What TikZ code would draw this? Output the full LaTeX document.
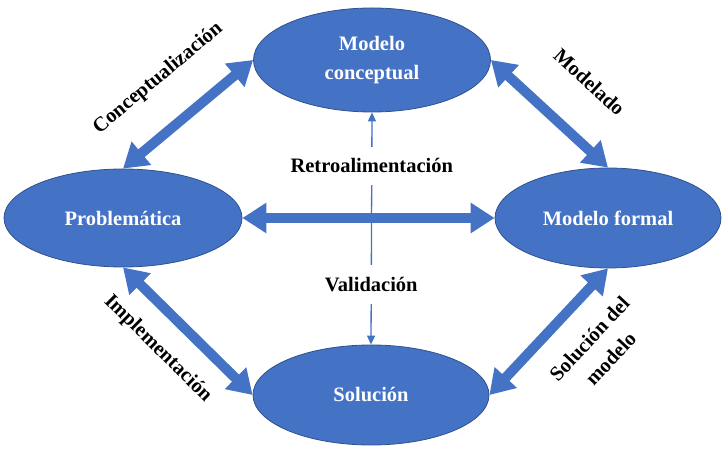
\documentclass[tikz,border=0pt]{standalone}
\usepackage{fontspec}
\setmainfont{Liberation Serif}
\usetikzlibrary{arrows.meta}
\usetikzlibrary{shapes.geometric}
\definecolor{azul}{HTML}{4472C4}
\definecolor{azuloscuro}{HTML}{2F528F}
\tikzset{
	etapa/.style={
		ellipse,
		fill=azul,
		draw=azuloscuro, thick,
		text=white,
		align=center,
		inner sep=0pt},
	flecha/.style={draw=azul, line width=10pt,
		{Triangle[length=24pt,width=29pt]}-{Triangle[length=24pt,width=29pt]}},
	enlace/.style={draw=azul, line width=1.3pt,
		{Triangle[length=9pt,width=8pt]}-{Triangle[length=9pt,width=8pt]}},
	rotulo/.style={sloped, align=center, text=black},
	corte/.style={fill=white, inner ysep=12pt},
}
\begin{document}
\begin{tikzpicture}
		[x=1pt, y=1pt, font=\bfseries\fontsize{20.5}{29}\selectfont]
		\useasboundingbox (0,0) rectangle (722,449);
		% etapas
		\node[etapa, minimum width=237pt, minimum height=104pt] (conceptual) at (372,389) {Modelo\\conceptual};
		\node[etapa, minimum width=238pt, minimum height=98pt] (problematica) at (123,231) {Problemática};
		\node[etapa, minimum width=226pt, minimum height=100pt] (formal) at (608,231) {Modelo formal};
		\node[etapa, minimum width=236pt, minimum height=100pt] (solucion) at (371,54) {Solución};
		% flechas
		\draw[flecha] (problematica.north) -- node[rotulo, above=29pt] {Conceptualización} (conceptual.west);
		\draw[flecha] (conceptual.east) -- node[rotulo, pos=0.55, above=35pt] {Modelado} (formal.north);
		\draw[flecha] (problematica.south) -- node[rotulo, pos=0.45, below=16pt] {Implementación} (solucion.west);
		\draw[flecha] (solucion.east) -- node[rotulo, pos=0.63, below=19pt] {Solución del\\modelo} (formal.south);
		\draw[flecha] (problematica.east) -- (formal.west);
		\draw[enlace] (solucion.north) -- node[corte, pos=0.26] {Validación} node[corte, pos=0.77] {Retroalimentación} (conceptual.south);
\end{tikzpicture}
\end{document}
